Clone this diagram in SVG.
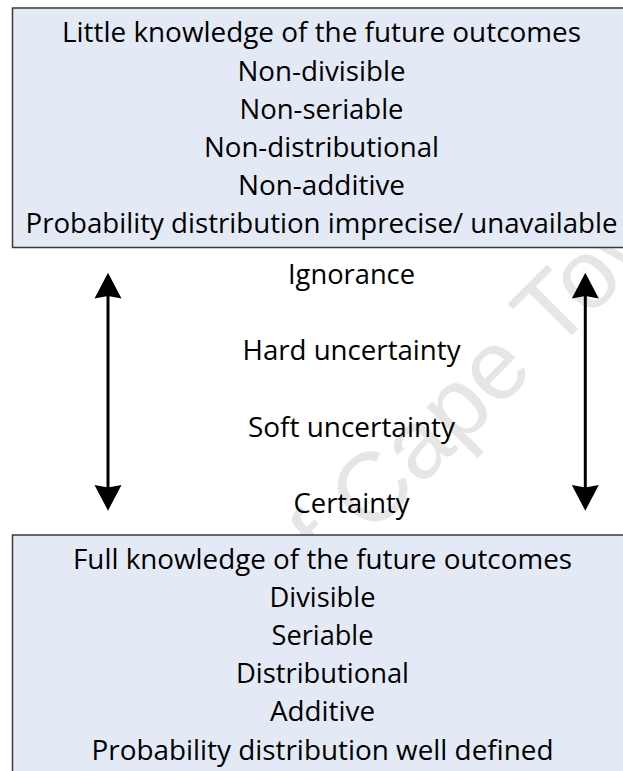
<svg xmlns="http://www.w3.org/2000/svg" width="623" height="771" viewBox="0 0 623 771">
  <style>
    .box { fill: #e4eaf5; stroke: #3a3a3a; stroke-width: 1.5; }
    .t { font-family: "Open Sans", "Noto Sans", "Liberation Sans", sans-serif; font-size: 27.5px; fill: #000; text-anchor: middle; }
    .wm { font-family: "Liberation Sans", Arial, sans-serif; font-size: 98px; fill: #e6e6e6; }
    .shaft { stroke: #000; stroke-width: 3; fill: none; marker-start: url(#head); marker-end: url(#head); }
  </style>
  <defs>
    <marker id="head" markerUnits="userSpaceOnUse" markerWidth="28" markerHeight="28" refX="7" refY="13.5" orient="auto-start-reverse" overflow="visible">
      <path d="M1.3,0 L27,13.5 L1.3,27 L3.7,13.5 Z" fill="#000"/>
    </marker>
  </defs>

  <rect width="623" height="771" fill="#fff"/>

  <!-- background watermark, partly covered by the two boxes -->
  <text class="wm" transform="translate(555,352) rotate(-45)" x="-828" y="0">University of Cape Town</text>

  <g id="node-top">
    <rect class="box" x="12.5" y="8" width="640" height="239.5"/>
    <text class="t" x="321.5" y="42.3" textLength="519" lengthAdjust="spacingAndGlyphs">Little knowledge of the future outcomes</text>
    <text class="t" x="321.5" y="80.5" textLength="168" lengthAdjust="spacingAndGlyphs">Non-divisible</text>
    <text class="t" x="321.5" y="118.7" textLength="164" lengthAdjust="spacingAndGlyphs">Non-seriable</text>
    <text class="t" x="321.5" y="156.9" textLength="235" lengthAdjust="spacingAndGlyphs">Non-distributional</text>
    <text class="t" x="321.5" y="195.1" textLength="167" lengthAdjust="spacingAndGlyphs">Non-additive</text>
    <text class="t" x="321.5" y="233.3" textLength="592" lengthAdjust="spacingAndGlyphs">Probability distribution imprecise/ unavailable</text>
  </g>

  <g id="scale-labels">
    <text class="t" x="351.5" y="284" textLength="127" lengthAdjust="spacingAndGlyphs">Ignorance</text>
    <text class="t" x="351.5" y="360.4" textLength="218" lengthAdjust="spacingAndGlyphs">Hard uncertainty</text>
    <text class="t" x="351.5" y="436.8" textLength="207" lengthAdjust="spacingAndGlyphs">Soft uncertainty</text>
    <text class="t" x="351.5" y="513.2" textLength="116" lengthAdjust="spacingAndGlyphs">Certainty</text>
  </g>

  <g id="node-bottom">
    <rect class="box" x="12.5" y="535" width="640" height="260"/>
    <text class="t" x="322.5" y="568.5" textLength="499" lengthAdjust="spacingAndGlyphs">Full knowledge of the future outcomes</text>
    <text class="t" x="322.5" y="606.7" textLength="106" lengthAdjust="spacingAndGlyphs">Divisible</text>
    <text class="t" x="322.5" y="644.9" textLength="102" lengthAdjust="spacingAndGlyphs">Seriable</text>
    <text class="t" x="322.5" y="683.1" textLength="173" lengthAdjust="spacingAndGlyphs">Distributional</text>
    <text class="t" x="322.5" y="721.3" textLength="105" lengthAdjust="spacingAndGlyphs">Additive</text>
    <text class="t" x="322.5" y="759.5" textLength="462" lengthAdjust="spacingAndGlyphs">Probability distribution well defined</text>
  </g>

  <g id="connectors">
    <line class="shaft" x1="108" y1="292.7" x2="108" y2="490.7"/>
    <line class="shaft" x1="585.3" y1="292.7" x2="585.3" y2="490.7"/>
  </g>
</svg>
